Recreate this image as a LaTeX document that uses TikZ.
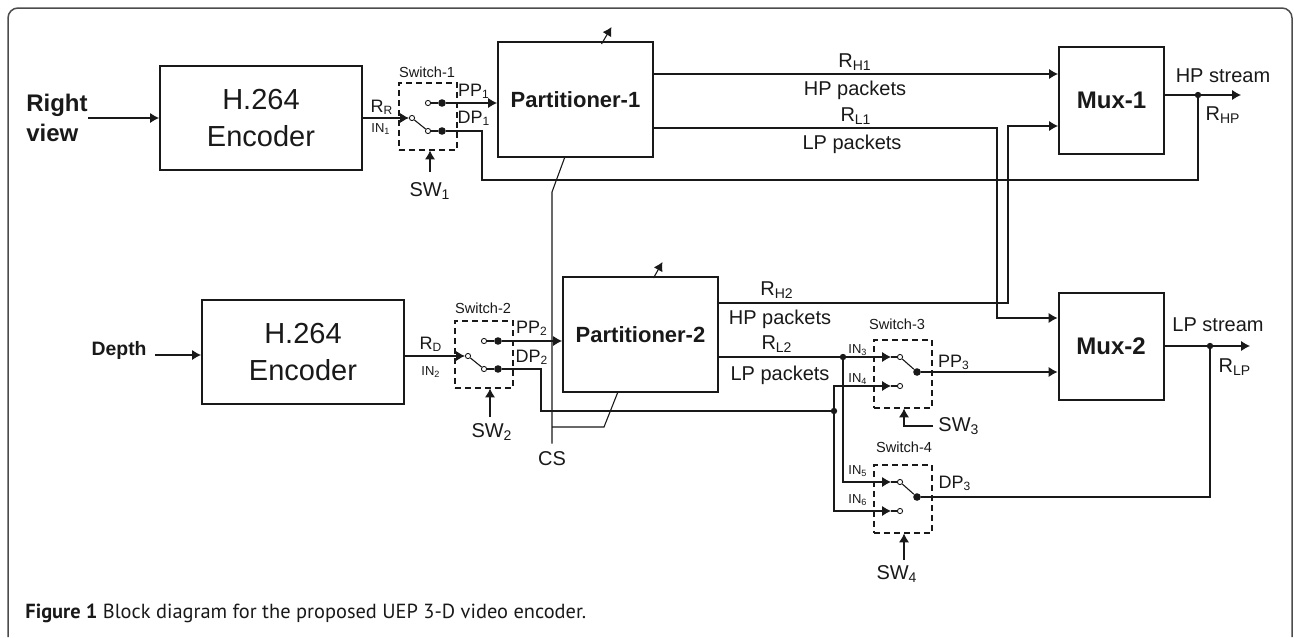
\documentclass[tikz,border=0pt]{standalone}
\usepackage{fontspec}
\setmainfont{Liberation Sans}
\newfontfamily\capfont{PT Sans}
\usetikzlibrary{arrows.meta,calc,positioning}
\tikzset{
    block/.style={draw, line width=1pt, minimum width=101pt, minimum height=52pt, align=center, font=\fontsize{14.5}{18.5}\selectfont},
    parti/.style={draw, line width=1pt, minimum width=77.5pt, minimum height=57.5pt, font=\bfseries\fontsize{11}{13}\selectfont},
    mux/.style={draw, line width=1pt, minimum width=52.5pt, minimum height=53.5pt, font=\bfseries\fontsize{12}{14}\selectfont},
    swbox/.style={draw, line width=0.75pt, dash pattern=on 3pt off 2pt, inner sep=0pt, minimum width=29pt, minimum height=33.5pt, anchor=north west},
    wire/.style={line width=0.55pt},
    arrow/.style={wire, -{Latex[length=4.4pt, width=5pt]}},
    term/.style={circle, draw, line width=0.45pt, fill=white, inner sep=0pt, minimum size=2.6pt},
    knob/.style={circle, fill, inner sep=0pt, minimum size=3.8pt},
    jdot/.style={circle, fill, inner sep=0pt, minimum size=3.2pt},
    txt/.style={inner sep=0pt, font=\fontsize{10}{12}\selectfont},
    port/.style={inner sep=0pt, font=\fontsize{9}{11}\selectfont},
    inlbl/.style={inner sep=0pt, font=\fontsize{6.5}{8}\selectfont},
    swname/.style={inner sep=0pt, font=\fontsize{7.3}{9}\selectfont},
    ctrl/.style={inner sep=0pt, font=\fontsize{10}{12}\selectfont}
}

\begin{document}
\begin{tikzpicture}[x=0.5pt, y=-0.5pt, color=black!90]
\useasboundingbox (0,0) rectangle (1294,637);
\draw[line width=0.75pt, black!70, rounded corners=5pt] (8,637) -- (8,8) -- (1292,8) -- (1292,637);

% Right view branch
\node[inner sep=0pt, align=left, anchor=east, font=\bfseries\fontsize{12}{15}\selectfont] (rv) at (88,118) {Right\\view};
\node[block] (enc1) at (261,118) {H.264\\Encoder};
\node[parti] (part1) at (575.5,99.5) {Partitioner-1};
\node[mux] (mux1) at (1111.5,100.5) {Mux-1};

% Depth branch
\node[anchor=base east, inner sep=0pt, font=\bfseries\fontsize{9.7}{12}\selectfont] (dep) at (147,355) {Depth};
\node[block] (enc2) at (303,352) {H.264\\Encoder};
\node[parti] (part2) at (640.5,334.5) {Partitioner-2};
\node[mux] (mux2) at (1111,346) {Mux-2};

% Switch-1 and Switch-2
\foreach \s/\x/\y in {1/398/82, 2/454/320} {
    \node[swbox] (sw\s) at (\x,\y) {};
    \node[term] (sw\s-in) at (\x+14,\y+36) {};
    \node[term] (sw\s-ta) at (\x+30,\y+21) {};
    \node[knob] (sw\s-tb) at (\x+44,\y+21) {};
    \node[term] (sw\s-ba) at (\x+30,\y+49) {};
    \node[knob] (sw\s-bb) at (\x+44,\y+49) {};
    \draw[wire] (sw\s-ta) -- (sw\s-tb);
    \draw[wire] (sw\s-ba) -- (sw\s-bb);
    \draw[wire] (sw\s-in) -- (sw\s-ba);
}

% Switch-3 and Switch-4
\foreach \s/\x/\y in {3/873/339, 4/873/464} {
    \node[swbox, minimum height=34pt] (sw\s) at (\x,\y) {};
    \coordinate (sw\s-pa) at (\x+18,\y+18);
    \coordinate (sw\s-pb) at (\x+18,\y+47);
    \node[term] (sw\s-ia) at (\x+27,\y+18) {};
    \node[term] (sw\s-ib) at (\x+27,\y+47) {};
    \node[knob] (sw\s-out) at (\x+44,\y+33) {};
    \draw[wire] (sw\s-pa) -- (sw\s-ia);
    \draw[wire] (sw\s-pb) -- (sw\s-ib);
    \draw[wire] (sw\s-ia) -- (sw\s-out);
}
\node[swname] (sw1n) at (427,72) {Switch-1};
\node[swname] (sw2n) at (483,308) {Switch-2};
\node[swname] (sw3n) at (897,324) {Switch-3};
\node[swname] (sw4n) at (904,447) {Switch-4};

% Switch controls
\node[ctrl] (sw1c) at (430,191) {SW\textsubscript{1}};
\node[ctrl] (sw2c) at (492,432) {SW\textsubscript{2}};
\node[ctrl, anchor=west, inner xsep=2.5pt] (sw3c) at (933,426) {SW\textsubscript{3}};
\node[ctrl] (sw4c) at (897,574) {SW\textsubscript{4}};
\coordinate (sw1k) at (430,172);
\coordinate (sw2k) at (490,417);
\coordinate (sw3k) at (904,426);
\coordinate (sw4k) at (904,560);
\draw[arrow] (sw1k) -- (sw1k |- sw1.south);
\draw[arrow] (sw2k) -- (sw2k |- sw2.south);
\draw[arrow] (sw3c.west) -- (sw3k) -- (sw3k |- sw3.south);
\draw[arrow] (sw4k) -- (sw4k |- sw4.south);

% Port labels
\node[port] (rr) at (382,107) {R\textsubscript{R}};
\node[inlbl] (in1) at (381,129) {IN\textsubscript{1}};
\node[port] (pp1) at (474,91) {PP\textsubscript{1}};
\node[port] (dp1) at (474,118) {DP\textsubscript{1}};
\node[port] (rd) at (431,344) {R\textsubscript{D}};
\node[inlbl] (in2) at (431,372) {IN\textsubscript{2}};
\node[port] (pp2) at (532,328) {PP\textsubscript{2}};
\node[port] (dp2) at (532,357) {DP\textsubscript{2}};
\node[inlbl] (in3) at (858,350) {IN\textsubscript{3}};
\node[inlbl] (in4) at (858,379) {IN\textsubscript{4}};
\node[inlbl] (in5) at (858,471) {IN\textsubscript{5}};
\node[inlbl] (in6) at (858,500) {IN\textsubscript{6}};
\node[port] (pp3) at (954,362) {PP\textsubscript{3}};
\node[port] (dp3) at (955,483) {DP\textsubscript{3}};

% Rates and streams
\node[txt] (rh1) at (855,62) {R\textsubscript{H1}};
\node[txt] (hp1) at (855,90) {HP packets};
\node[txt] (rl1) at (856,116) {R\textsubscript{L1}};
\node[txt] (lp1) at (852,144) {LP packets};
\node[txt] (rh2) at (777,290) {R\textsubscript{H2}};
\node[txt] (hp2) at (780,319) {HP packets};
\node[txt] (rl2) at (777,344) {R\textsubscript{L2}};
\node[txt] (lp2) at (780,375) {LP packets};
\node[txt] (hps) at (1223,76) {HP stream};
\node[txt] (rhp) at (1223,115) {R\textsubscript{HP}};
\node[txt] (lps) at (1218,325) {LP stream};
\node[txt] (rlp) at (1235,367) {R\textsubscript{LP}};
\node[ctrl, inner sep=4pt] (cs) at (552,459) {CS};

% Bends and junctions
\coordinate (d1) at (482,180);
\coordinate (d2) at (541,411);
\coordinate (l1) at (997,128);
\coordinate (l1d) at (997,318);
\coordinate (h2) at (1008,303);
\coordinate (h2u) at (1008,126);
\coordinate (j3) at (843,357);
\coordinate (j4) at (834,411);
\coordinate (hpj) at (1198,95);
\coordinate (lpj) at (1210,346);
\coordinate (hpout) at (1241,95);
\coordinate (lpout) at (1250,346);
\coordinate (cs1) at (552,192);
\coordinate (cs2) at (604,427);

% Inputs
\draw[arrow] (rv) -- (enc1);
\draw[arrow] ([xshift=4pt]dep.base east) -- (enc2.west |- dep.base);
\draw[arrow] (enc1) -- (sw1-in);
\draw[arrow] (enc2.east |- sw2-in) -- (sw2-in);

% Switch outputs
\draw[arrow] (sw1-tb) -- (sw1-tb -| part1.west);
\draw[arrow] (sw2-tb) -- (sw2-tb -| part2.west);
\draw[wire] (sw1-bb) -| (d1) -| (hpj);
\draw[wire] (sw2-bb) -| (d2) -- (j4);

% Partitioner outputs
\draw[arrow] ([yshift=12.75pt]part1.east) -- ([yshift=12.75pt]part1.east -| mux1.west);
\draw[arrow] (part1.east |- l1) -- (l1) -- (l1d) -- (l1d -| mux2.west);
\draw[arrow] (part2.east |- h2) -- (h2) -- (h2u) -- (h2u -| mux1.west);
\draw[wire] (part2.east |- j3) -- (j3);
\draw[arrow] (j3) -- (sw3-pa);
\draw[arrow] (j3) |- (sw4-pa);
\draw[arrow] (j4) |- (sw3-pb);
\draw[arrow] (j4) |- (sw4-pb);
\draw[arrow] (sw3-out) -- (sw3-out -| mux2.west);
\draw[wire] (sw4-out) -| (lpj);

% Mux outputs
\draw[wire] (mux1.east |- hpj) -- (hpj);
\draw[arrow] (hpj) -- (hpout);
\draw[wire] (mux2.east |- lpj) -- (lpj);
\draw[arrow] (lpj) -- (lpout);
\foreach \j in {hpj, lpj, j3, j4} {
    \node[jdot] (\j-d) at (\j) {};
}

% Control signal
\draw[wire] ($(part1.south)+(-11,0)$) -- (cs1) -- (cs.north);
\draw[wire] ($(part2.south)+(-23,0)$) -- (cs2) -- (cs2 -| cs.north);
\draw[arrow] ($(part1.north)+(26,3)$) -- ++(10,-17);
\draw[arrow] ($(part2.north)+(13,2)$) -- ++(9,-16);

% Caption
\node[anchor=base west, inner sep=0pt, font=\capfont\fontsize{10.2}{12}\selectfont] (cap) at (25,618) {\textbf{Figure 1} Block diagram for the proposed UEP 3-D video encoder.};
\end{tikzpicture}
\end{document}
